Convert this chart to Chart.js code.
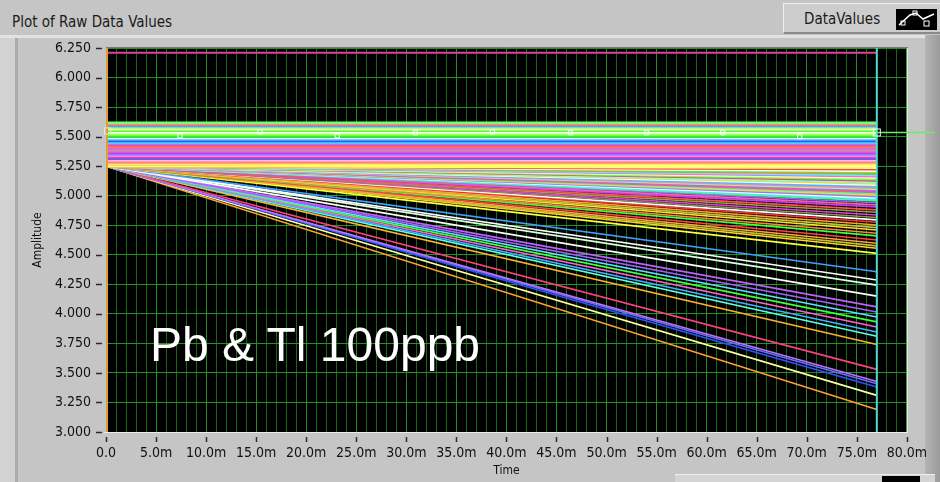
<!DOCTYPE html>
<html>
<head>
<meta charset="utf-8">
<script src="https://cdn.jsdelivr.net/npm/chart.js@4.4.1/dist/chart.umd.min.js"></script>
<style>
html,body{margin:0;padding:0;}
body{width:940px;height:482px;background:#c5c5c5;position:relative;overflow:hidden;font-family:'DejaVu Sans Condensed','DejaVu Sans','Liberation Sans',sans-serif;color:#1a1a1a;}
#frameTop{position:absolute;left:0;top:35px;width:925px;height:3px;background:#e2e2e2;}
#frameLeft{position:absolute;left:0;top:38px;width:15px;height:444px;background:#d2d2d2;border-right:3px solid #ababab;}
#frameRight{position:absolute;left:925px;top:35px;width:15px;height:447px;background:linear-gradient(to right,#b4b4b4,#9a9a9a);}
#title{position:absolute;left:12px;top:15px;font-size:15px;line-height:15px;white-space:nowrap;}
#legendBox{position:absolute;left:783px;top:3px;width:160px;height:28px;background:#cdcdcd;border-top:1px solid #f0f0f0;border-left:1px solid #f0f0f0;border-bottom:2px solid #8a8a8a;}
#legendText{position:absolute;left:20px;top:8px;font-size:15px;line-height:15px;white-space:nowrap;}
#legendIcon{position:absolute;left:112px;top:5px;width:41px;height:21px;background:#000;}
#bottomWidget{position:absolute;left:675px;top:474px;width:260px;height:10px;background:#d4d4d4;border-top:1px solid #efefef;}
#bottomIcon{position:absolute;left:207px;top:1px;width:38px;height:10px;background:#000;}
#chartCanvas{position:absolute;left:0;top:0;}
#bigLabel{position:absolute;left:150px;top:321px;font-family:'Liberation Sans',Arial,sans-serif;font-size:48px;line-height:48px;color:#ffffff;white-space:nowrap;}
</style>
</head>
<body>
<div id="frameTop"></div>
<div id="frameLeft"></div>
<div id="frameRight"></div>
<div id="title">Plot of Raw Data Values</div>
<div id="legendBox">
  <div id="legendText">DataValues</div>
  <div id="legendIcon">
    <svg width="41" height="21" viewBox="0 0 41 21">
      <polyline points="3,16 14,6 20,4 27,10 38,5" fill="none" stroke="#ffffff" stroke-width="1.5"/>
      <rect x="5" y="12" width="4" height="4" fill="none" stroke="#fff" stroke-width="1"/>
      <rect x="17" y="2" width="4" height="4" fill="none" stroke="#fff" stroke-width="1"/>
      <rect x="28" y="12" width="5" height="5" fill="none" stroke="#fff" stroke-width="1"/>
    </svg>
  </div>
</div>
<div id="bottomWidget"><div id="bottomIcon"></div></div>
<canvas id="chartCanvas" width="940" height="482"></canvas>
<div id="bigLabel">Pb &amp; Tl 100ppb</div>
<script>
// ---------------- data ----------------
const timeStart = 0;      // ms
const timeEnd = 77;       // ms (last sample)
const topLine = 6.21;     // isolated pink trace
const flatLevels = [5.615,5.600,5.590,5.578,5.565,5.552,5.540,5.528,5.515,5.502,5.490,5.478,5.465,5.452,5.440,
                    5.428,5.415,5.402,5.390,5.378,5.365,5.352,5.340,5.328,5.315,5.302,5.290,5.278,5.265,5.252];
const flatColors = ['#70ff70','#ff6080','#40b0ff','#a0ffa0','#ffff80','#40ff40','#ffffff','#c0ff40','#60ff60','#30e030',
                    '#e0ffe0','#40c0ff','#3050ff','#40e0ff','#b070ff','#ff5060','#ff7070','#e060e0','#a0a0a0','#ff60c0',
                    '#c040ff','#8080ff','#ff80ff','#e040a0','#6060ff','#ffb0ff','#ff9040','#ffa0a0','#ffff60','#ffffc0'];
const slopeStart = 5.25;
const slopeEnds = [5.235,5.222,5.210,5.198,5.186,5.174,5.162,5.150,5.138,5.126,5.114,5.102,5.090,5.078,5.066,5.054,
                   5.042,5.030,5.018,5.006,4.994,4.982,4.970,4.958,
                   4.940,4.922,4.905,4.880,4.860,4.837,4.815,4.795,4.775,4.752,4.730,4.710,4.682,4.660,4.625,4.597,
                   4.575,4.555,4.512,
                   4.356,4.286,4.243,4.150,4.059,4.016,3.974,3.932,3.889,3.847,3.810,3.740,3.530,3.428,3.409,3.380,
                   3.310,3.190];
const slopeColors = ['#ffff60','#ff4040','#ffffff','#40ff40','#ff8040','#40ffff','#ff60ff','#ffffa0','#60ff60','#ff4060',
                     '#80ffff','#e0e040','#ffffff','#40c0ff','#ff80c0','#a0ff80','#c060ff','#ff6060','#40ffc0','#ffd040',
                     '#8080ff','#ffffff','#60e0ff','#40ff80',
                     '#a060ff','#ff60a0','#c040ff','#ff5050','#a0a040','#e040e0','#909050','#ffffff','#ff3030','#ffa030',
                     '#c0c040','#ffe030','#ff8040','#40ff40','#ff4040','#ffa040','#c0c030','#ffd030','#ffff40',
                     '#40a0ff','#ffffff','#e0ffe0','#ffffff','#c060ff','#a060ff','#60e0ff','#40ff40','#ff60d0','#40b0ff',
                     '#60ffe0','#ffb030','#ff4080','#c070ff','#6070ff','#3050ff','#ffffa0','#ffa030'];
const markerTimes  = [7.4, 15.4, 23.1, 30.9, 38.6, 46.4, 54.0, 61.6, 69.3];
const markerLevels = [5.507,5.541,5.507,5.533,5.541,5.533,5.533,5.533,5.499];
const cursorTime = 77;
const cursorLevel = 5.535;
const leftCursorLevel = 5.544;
const xMin = 0, xMax = 80, xStep = 1, xMajor = 5;
const yMin = 3, yMax = 6.25, yStep = 0.25;

// ---------------- datasets ----------------
const datasets = [];
const seg = (a, b) => [{x: timeStart, y: a}, {x: timeEnd, y: b}];
slopeEnds.forEach((v, i) => {
  datasets.push({data: seg(slopeStart, v), borderColor: slopeColors[i], borderWidth: i < 24 ? 2 : 1.6});
});
flatLevels.forEach((v, i) => {
  datasets.push({data: seg(v, v), borderColor: flatColors[i], borderWidth: 3});
});
datasets.push({data: seg(topLine, topLine), borderColor: '#e0409a', borderWidth: 2});
datasets.unshift({
  data: markerTimes.map((t, i) => ({x: t, y: markerLevels[i]})),
  showLine: false, pointStyle: 'rect', pointRadius: 3, pointBorderColor: '#ffffff',
  pointBackgroundColor: 'rgba(0,0,0,0)', pointBorderWidth: 1, borderColor: '#ffffff'
});

const tickFont = {family: "'DejaVu Sans Condensed','DejaVu Sans','Liberation Sans',sans-serif", size: 14};
const titleFont = {family: "'DejaVu Sans Condensed','DejaVu Sans','Liberation Sans',sans-serif", size: 12};

const plotPlugin = {
  id: 'plotDecor',
  beforeDraw(chart) {
    const {ctx, chartArea: a} = chart;
    ctx.save();
    ctx.fillStyle = '#000';
    ctx.fillRect(a.left, a.top, a.right - a.left, a.bottom - a.top);
    ctx.restore();
  },
  afterDraw(chart) {
    const {ctx, chartArea: a, scales: {x, y}} = chart;
    ctx.save();
    // frame
    ctx.strokeStyle = '#7a7a7a'; ctx.lineWidth = 1;
    ctx.beginPath(); ctx.moveTo(a.left, a.top - 0.5); ctx.lineTo(a.right + 1, a.top - 0.5); ctx.stroke();
    ctx.strokeStyle = '#ececec';
    ctx.beginPath(); ctx.moveTo(a.left - 2, a.bottom + 0.5); ctx.lineTo(a.right + 1, a.bottom + 0.5);
    ctx.moveTo(a.right + 0.5, a.top); ctx.lineTo(a.right + 0.5, a.bottom); ctx.stroke();
    // tick marks
    ctx.strokeStyle = '#2a2a2a'; ctx.lineWidth = 1.5;
    y.ticks.forEach(t => {
      const py = Math.round(y.getPixelForValue(t.value)) + 0.5;
      ctx.beginPath(); ctx.moveTo(a.left - 10, py); ctx.lineTo(a.left - 4, py); ctx.stroke();
    });
    x.ticks.forEach(t => {
      if (Math.round(t.value) % xMajor !== 0) return;
      const px = Math.round(x.getPixelForValue(t.value)) + 0.5;
      ctx.beginPath(); ctx.moveTo(px, a.bottom + 5); ctx.lineTo(px, a.bottom + 10); ctx.stroke();
    });
    // left (orange) cursor
    const x0 = x.getPixelForValue(timeStart);
    ctx.strokeStyle = '#dca030'; ctx.lineWidth = 2;
    ctx.beginPath(); ctx.moveTo(x0 + 1, a.top); ctx.lineTo(x0 + 1, a.bottom); ctx.stroke();
    ctx.strokeStyle = '#e8e8c8'; ctx.lineWidth = 1;
    const ly = y.getPixelForValue(leftCursorLevel);
    ctx.strokeRect(x0 - 1.5, ly - 3.5, 6, 6);
    // right (cyan) cursor
    const cx = x.getPixelForValue(cursorTime);
    const cy = y.getPixelForValue(cursorLevel);
    ctx.strokeStyle = '#66ee66'; ctx.lineWidth = 1.5;
    ctx.beginPath(); ctx.moveTo(cx, cy); ctx.lineTo(935, cy); ctx.stroke();
    ctx.strokeStyle = '#48e0d0'; ctx.lineWidth = 2;
    ctx.beginPath(); ctx.moveTo(cx, a.top); ctx.lineTo(cx, a.bottom); ctx.stroke();
    ctx.strokeStyle = '#e0ffe0'; ctx.lineWidth = 1;
    ctx.strokeRect(cx - 3.5, cy - 3.5, 7, 7);
    ctx.restore();
  }
};

new Chart(document.getElementById('chartCanvas'), {
  type: 'line',
  data: {datasets},
  options: {
    responsive: false,
    animation: false,
    events: [],
    parsing: true,
    elements: {point: {radius: 0}, line: {tension: 0}},
    layout: {padding: {left: 0, right: 32, top: 48, bottom: 0}},
    plugins: {legend: {display: false}, tooltip: {enabled: false}},
    scales: {
      x: {
        type: 'linear', min: xMin, max: xMax,
        afterFit(s) { s.height = 50; },
        ticks: {
          stepSize: xStep, autoSkip: false, maxRotation: 0, padding: 13,
          color: '#111111', font: tickFont,
          callback: v => (Math.round(v) % xMajor === 0) ? (v === 0 ? '0.0' : v.toFixed(1) + 'm') : ''
        },
        grid: {
          drawTicks: false, lineWidth: 1,
          color: c => (c.tick && Math.round(c.tick.value) % xMajor === 0) ? '#219021' : '#166a16'
        },
        border: {display: false},
        title: {display: true, text: 'Time', color: '#111111', font: titleFont, padding: {top: 0, bottom: 4}}
      },
      y: {
        type: 'linear', min: yMin, max: yMax,
        afterFit(s) { s.width = 106; },
        ticks: {stepSize: yStep, padding: 15, color: '#111111', font: tickFont, callback: v => v.toFixed(3)},
        grid: {drawTicks: false, lineWidth: 1, color: '#219421'},
        border: {display: false},
        title: {display: true, text: 'Amplitude', color: '#111111', font: titleFont, padding: {top: 31, bottom: 0}}
      }
    }
  },
  plugins: [plotPlugin]
});
</script>
</body>
</html>
